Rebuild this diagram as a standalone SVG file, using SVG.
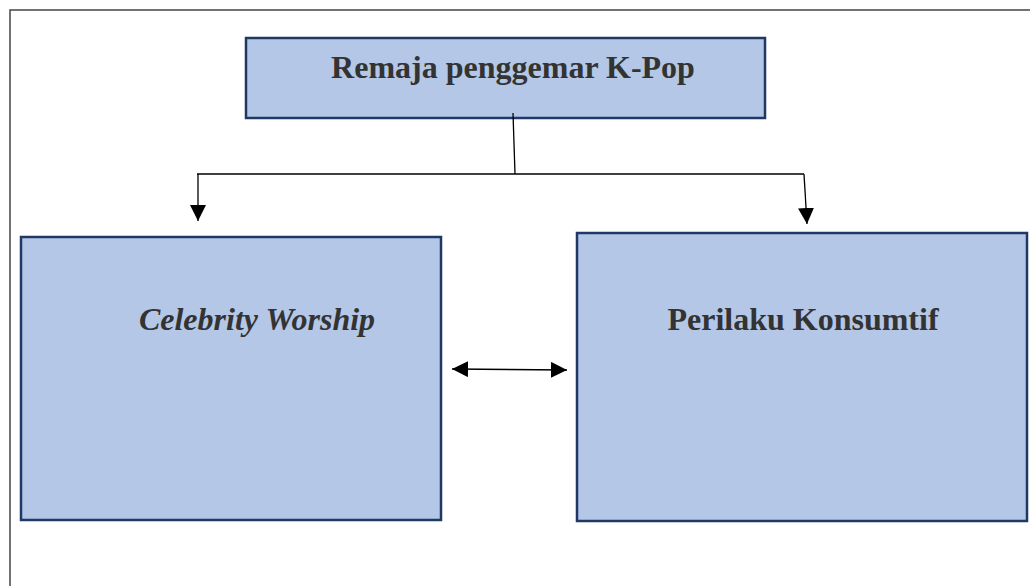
<svg xmlns="http://www.w3.org/2000/svg" width="1030" height="586" viewBox="0 0 1030 586">
<defs>
<style>
.box{fill:#B4C7E7;stroke:#1F3864;stroke-width:2.5}
.lbl{font-family:"Liberation Serif","Times New Roman",serif;font-weight:bold;font-size:32px;fill:#333333}
.ln{stroke:#000;stroke-width:1.3;fill:none}
</style>
<marker id="ah" viewBox="0 0 10 10" refX="10" refY="5" markerWidth="16" markerHeight="16" markerUnits="userSpaceOnUse" orient="auto-start-reverse">
<path d="M0,0 L10,5 L0,10 z" fill="#000"/>
</marker>
</defs>
<rect width="1030" height="586" fill="#fff"/>
<path d="M10,586 L10,10 L1030,10" fill="none" stroke="#444" stroke-width="1.5"/>
<g id="node-remaja">
<rect class="box" x="246" y="38" width="519" height="80"/>
<text class="lbl" x="513" y="78" text-anchor="middle">Remaja penggemar K-Pop</text>
</g>
<g id="node-celebrity">
<rect class="box" x="21" y="237" width="420" height="283"/>
<text class="lbl" x="257" y="330" text-anchor="middle" font-style="italic">Celebrity Worship</text>
</g>
<g id="node-perilaku">
<rect class="box" x="577" y="233" width="450" height="288"/>
<text class="lbl" x="803" y="330" text-anchor="middle">Perilaku Konsumtif</text>
</g>
<g id="connectors">
<path class="ln" d="M513,113 L515,174"/>
<path class="ln" d="M197,174 L804,174"/>
<path class="ln" d="M198,174 L198,221" marker-end="url(#ah)"/>
<path class="ln" d="M804,174 L807,224" marker-end="url(#ah)"/>
<path class="ln" d="M452,369 L567,370" marker-start="url(#ah)" marker-end="url(#ah)"/>
</g>
</svg>
